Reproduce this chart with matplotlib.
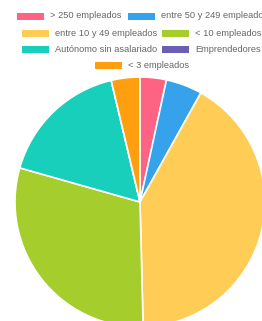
import matplotlib.pyplot as plt
from matplotlib.patches import Rectangle

labels = ["> 250 empleados", "entre 50 y 249 empleados", "entre 10 y 49 empleados",
          "< 10 empleados", "Autónomo sin asalariado", "Emprendedores", "< 3 empleados"]
values = [3.4, 4.7, 41.5, 29.8, 16.9, 0, 3.7]
colors = ["#ff6384", "#36a2eb", "#ffcd56", "#a5cd2b", "#17cfbb", "#6a5fb3", "#ff9f0f"]

# legend layout (pixel x of box left, pixel y of row centre)
legend_pos = [(17, 16), (128, 16), (22, 33), (162, 33), (22, 49), (162, 49), (95, 65)]

W, H = 262, 321
fig = plt.figure(figsize=(W / 100, H / 100), dpi=100)
fig.patch.set_facecolor("white")

# pie: centre (140, 202) px from top-left, radius 125 px
cx, cy, r = 140, 202, 125
ax = fig.add_axes([(cx - r) / W, (H - cy - r) / H, 2 * r / W, 2 * r / H])
ax.pie(values, colors=colors, startangle=90, counterclock=False, radius=1,
       wedgeprops=dict(edgecolor="white", linewidth=1.2))
ax.set_xlim(-1, 1)
ax.set_ylim(-1, 1)
ax.set_aspect("auto")
ax.axis("off")

# legend drawn by hand to mimic the centred rows
for (x, y), lab, col in zip(legend_pos, labels, colors):
    fig.patches.append(Rectangle((x / W, 1 - (y + 3.5) / H), 27 / W, 7 / H,
                                 transform=fig.transFigure, facecolor=col,
                                 edgecolor="none"))
    fig.text((x + 33) / W, 1 - y / H, lab, fontsize=6.7, color="#666666",
             family="Liberation Sans", va="center", ha="left")

fig.savefig("out.png", dpi=100)
